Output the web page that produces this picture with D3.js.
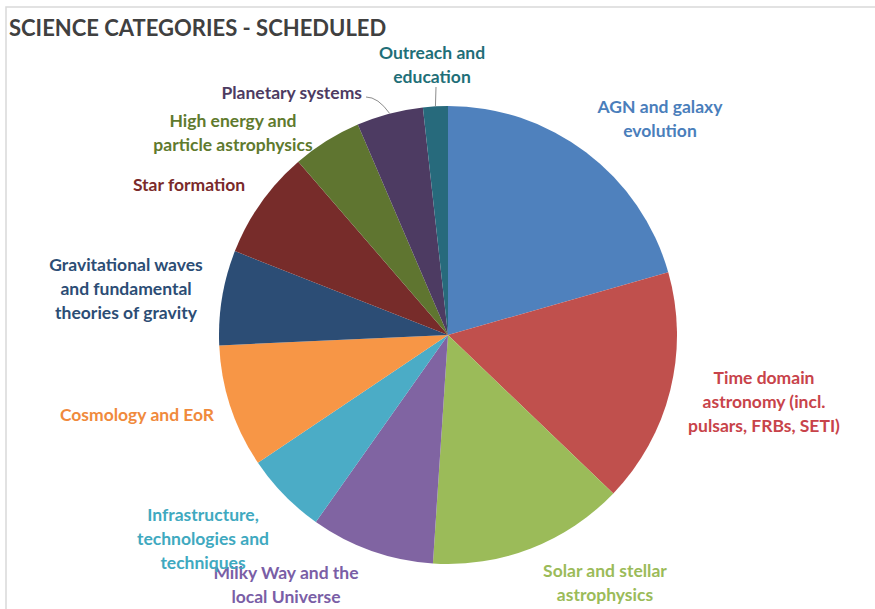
<!DOCTYPE html>
<html>
<head>
<meta charset="utf-8">
<script src="https://cdn.jsdelivr.net/npm/d3@7"></script>
<style>
  body { margin: 0; background: #fff; }
  svg { display: block; font-family: Lato, "Open Sans", sans-serif; font-weight: bold; }
</style>
</head>
<body>
<svg id="chart" width="875" height="609"></svg>
<script>
// Share of scheduled time per science category (%), read clockwise from 12 o'clock
const categories = [
  "AGN and galaxy evolution",
  "Time domain astronomy (incl. pulsars, FRBs, SETI)",
  "Solar and stellar astrophysics",
  "Milky Way and the local Universe",
  "Infrastructure, technologies and techniques",
  "Cosmology and EoR",
  "Gravitational waves and fundamental theories of gravity",
  "Star formation",
  "High energy and particle astrophysics",
  "Planetary systems",
  "Outreach and education"
];
const values = [20.6, 16.6, 13.9, 8.75, 5.8, 8.7, 6.7, 7.7, 4.9, 4.7, 1.75];

// label text broken the way the slide shows it
const labelLines = [
  ["AGN and galaxy", "evolution"],
  ["Time domain", "astronomy (incl.", "pulsars, FRBs, SETI)"],
  ["Solar and stellar", "astrophysics"],
  ["Milky Way and the", "local Universe"],
  ["Infrastructure,", "technologies and", "techniques"],
  ["Cosmology and EoR"],
  ["Gravitational waves", "and fundamental", "theories of gravity"],
  ["Star formation"],
  ["High energy and", "particle astrophysics"],
  ["Planetary systems"],
  ["Outreach and", "education"]
];

const colors = ["#4f81bd", "#c0504d", "#9bbb59", "#8064a2", "#4bacc6", "#f79646",
                "#2c4d75", "#772c2a", "#5f7530", "#4d3b62", "#276a7c"];
const textColors = ["#4a7ebb", "#c8434a", "#9bbb59", "#7a5ea6", "#3fa9c0", "#f08a3c",
                    "#2c4d75", "#7a2a2a", "#5f7a2e", "#4d3b62", "#1f6f78"];

// manual label placement (centre x, first line y)
const labelPos = [
  [660, 107], [764, 378], [605, 571], [286, 573], [203, 515], [137, 415],
  [126, 265], [189, 185], [233, 121], [292, 93], [432, 53]
];

const width = 875, height = 609;
const cx = 448, cy = 335, radius = 229;
const svg = d3.select("#chart");

// slide frame
svg.append("path")
  .attr("d", `M6,${height} V7 H${width}`)
  .attr("fill", "none")
  .attr("stroke", "#d9d9d9")
  .attr("stroke-width", 1.5);

svg.append("text")
  .attr("x", 9)
  .attr("y", 36)
  .attr("fill", "#404040")
  .attr("font-size", 22)
  .text("SCIENCE CATEGORIES - SCHEDULED");

const pie = d3.pie().sort(null).value(d => d);
const arcs = pie(values);
const arc = d3.arc().innerRadius(0).outerRadius(radius);

const g = svg.append("g").attr("transform", `translate(${cx},${cy})`);
g.selectAll("path")
  .data(arcs)
  .join("path")
    .attr("d", arc)
    .attr("fill", (d, i) => colors[i]);

// leader lines for the two thin slices at the top
const edge = d3.arc().innerRadius(radius).outerRadius(radius);
const leaders = [
  { i: 10, from: [436, 87] },
  { i: 9, from: [366, 97] }
];
leaders.forEach(l => {
  const [ex, ey] = edge.centroid(arcs[l.i]);
  const tx = ex + cx, ty = ey + cy;
  const [fx, fy] = l.from;
  svg.append("path")
    .attr("d", l.i === 10
      ? `M${fx},${fy} L${tx},${ty}`
      : `M${fx},${fy} Q${fx + 12},${fy} ${tx},${ty}`)
    .attr("fill", "none")
    .attr("stroke", "#8c8c8c")
    .attr("stroke-width", 1);
});

// labels
const label = svg.selectAll("text.lbl")
  .data(labelLines)
  .join("text")
    .attr("class", "lbl")
    .attr("font-size", 17.5)
    .attr("fill", (d, i) => textColors[i])
    .attr("text-anchor", "middle");

label.selectAll("tspan")
  .data((d, i) => d.map(t => ({ t, i })))
  .join("tspan")
    .attr("x", d => labelPos[d.i][0])
    .attr("y", (d, j) => labelPos[d.i][1] + 6 + j * 24)
    .text(d => d.t);

// Planetary systems is right aligned against its leader
label.filter((d, i) => i === 9)
  .attr("text-anchor", "end")
  .selectAll("tspan").attr("x", 362);
</script>
</body>
</html>
